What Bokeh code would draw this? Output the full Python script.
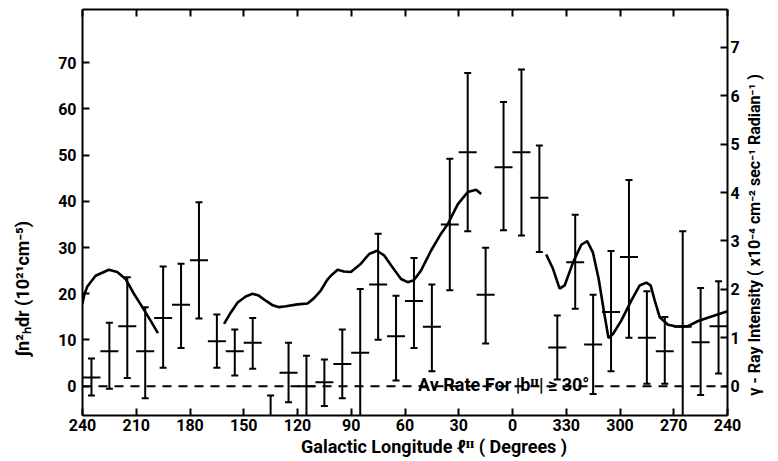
import math
from bokeh.plotting import figure
from bokeh.models import Range1d, LinearAxis, FixedTicker, ColumnDataSource, Span, Label
from bokeh.embed import file_html
from bokeh.resources import INLINE

# ---------------- data ----------------
# gamma-ray intensity (x1e-4 cm^-2 s^-1 rad^-1), 10-degree bins in galactic longitude
gamma_lon = [235, 225, 215, 205, 195, 185, 175, 165, 155, 145, 135, 125,
             115, 105, 95, 85, 75, 65, 55, 45, 35, 25, 15, 5,
             355, 345, 335, 325, 315, 305, 295, 285, 275, 265, 255, 245]
gamma_val = [0.18, 0.72, 1.24, 0.72, 1.41, 1.68, 2.60, 0.93, 0.72, 0.90, -0.75, 0.28,
             0.00, 0.08, 0.46, 0.69, 2.10, 1.03, 1.76, 1.23, 3.34, 4.83, 1.89, 4.52,
             4.83, 3.89, 0.80, 2.56, 0.86, 1.53, 2.67, 1.00, 0.72, 1.23, 0.91, 1.24]
gamma_hi = [0.57, 1.31, 2.25, 1.63, 2.47, 2.53, 3.80, 1.48, 1.17, 1.41, -0.19, 0.90,
            0.63, 0.55, 1.17, 2.01, 3.15, 1.87, 2.65, 2.10, 4.70, 6.47, 2.86, 5.87,
            6.54, 4.97, 1.46, 3.54, 1.89, 2.79, 4.26, 1.96, 1.43, 3.20, 2.03, 2.17]
gamma_lo = [-0.19, -0.05, 0.17, -0.25, 0.38, 0.79, 1.40, 0.38, 0.22, 0.36, -1.31, -0.33,
            -0.63, -0.41, -0.25, -0.63, 0.96, 0.12, 0.79, 0.31, 1.98, 3.20, 0.88, 3.22,
            3.11, 2.77, 0.14, 1.60, -0.16, 0.31, 1.00, 0.05, 0.05, -0.74, -0.18, 0.26]

# integral n_H^2 dr (1e21 cm^-5), three curve pieces
curve_a_lon = [240.0, 239.0, 237.4, 232.7, 225.3, 220.6, 216.0, 211.3, 206.6, 202.0, 197.9]
curve_a_val = [17.9, 19.8, 21.5, 23.9, 25.2, 24.7, 23.2, 20.0, 17.1, 14.2, 11.5]

curve_b_lon = [161.0, 157.3, 153.4, 148.9, 145.1, 141.6, 137.7, 133.8, 130.3, 126.5, 120.0,
               114.4, 110.9, 107.0, 103.6, 101.4, 97.6, 94.1, 90.2, 84.6, 80.0, 75.7,
               71.6, 66.9, 62.2, 58.5, 55.1, 51.1, 45.5, 39.9, 36.1, 30.5, 25.0, 20.3, 17.5]
curve_b_val = [13.5, 15.9, 18.1, 19.4, 20.0, 19.6, 18.5, 17.5, 17.1, 17.3, 17.7,
               17.9, 19.0, 20.7, 22.9, 23.9, 25.2, 24.8, 24.7, 26.5, 28.6, 29.3,
               28.3, 25.7, 23.2, 22.5, 22.9, 25.0, 29.3, 33.0, 35.1, 39.4, 42.0, 42.5, 41.6]

curve_c_lon = [341.2, 337.4, 333.7, 330.9, 326.2, 321.6, 318.3, 315.1, 311.9, 308.9, 306.4,
               303.9, 299.3, 293.7, 289.0, 285.3, 282.9, 280.6, 277.8, 273.2, 268.5,
               262.0, 256.4, 248.9, 240.0]
curve_c_val = [28.5, 25.4, 21.1, 21.8, 26.8, 30.6, 31.4, 28.9, 23.2, 16.0, 10.4,
               11.3, 14.2, 18.5, 21.8, 22.4, 21.8, 18.5, 14.9, 13.3, 12.9,
               13.0, 14.1, 15.1, 16.2]

x_tick_pos = [240, 210, 180, 150, 120, 90, 60, 30, 0, -30, -60, -90, -120]
x_tick_labels = ["240", "210", "180", "150", "120", "90", "60", "30", "0",
                 "330", "300", "270", "240"]
left_ticks = [0, 10, 20, 30, 40, 50, 60, 70]
right_ticks = [0, 1, 2, 3, 4, 5, 6, 7]

x_title = "Galactic  Longitude \u2113\u1d35\u1d35 ( Degrees )"
left_title = "\u222bn\u00b2\u2095dr (10\u00b2\u00b9cm\u207b\u2075)"
right_title = "\u03b3 - Ray Intensity ( x10\u207b\u2074 cm\u207b\u00b2 sec\u207b\u00b9 Radian\u207b\u00b9 )"
avrate_text = "Av Rate For |b\u1d35\u1d35| \u2265 30\u00b0"
avrate_lon = 52.7

NBSP = "\u00a0"

# ---------------- helpers ----------------
def first_half(lons):
    return [l for l in lons]

def second_half(lons):
    return [l - 360 for l in lons]

def wrap(lons):
    return [l - 360 if l > 240 else l for l in lons]

FONT = "Roboto"

p = figure(width=778, height=461,
           x_range=Range1d(240, -120), y_range=Range1d(-6.34, 81.5),
           output_backend="svg", toolbar_location=None,
           x_axis_location=None, y_axis_location=None,
           min_border_left=82, min_border_right=51,
           min_border_top=9, min_border_bottom=46)
p.extra_y_ranges = {"gamma": Range1d(-0.605, 7.78)}
p.grid.grid_line_color = None
p.outline_line_color = None
p.background_fill_color = "white"
p.border_fill_color = "white"


def style(ax):
    ax.major_tick_in = 7
    ax.major_tick_out = 0
    ax.minor_tick_line_color = None
    ax.axis_line_width = 2
    ax.axis_line_color = "black"
    ax.major_tick_line_width = 2
    ax.major_tick_line_color = "black"
    ax.major_label_text_font = FONT
    ax.major_label_text_font_style = "bold"
    ax.major_label_text_font_size = "16px"
    ax.major_label_text_color = "black"
    ax.axis_label_text_font = FONT
    ax.axis_label_text_font_style = "bold"
    ax.axis_label_text_color = "black"


bottom = LinearAxis(ticker=FixedTicker(ticks=x_tick_pos),
                    major_label_overrides=dict(zip(x_tick_pos, x_tick_labels)),
                    axis_label=NBSP * 14 + x_title)
style(bottom)
bottom.major_label_standoff = 3
bottom.axis_label_standoff = 2
bottom.axis_label_text_font_size = "18px"
p.add_layout(bottom, "below")

top = LinearAxis(ticker=FixedTicker(ticks=x_tick_pos))
style(top)
top.major_label_text_font_size = "0px"
top.major_label_text_color = None
top.major_label_standoff = 0
p.add_layout(top, "above")

left = LinearAxis(ticker=FixedTicker(ticks=left_ticks),
                  axis_label=left_title + NBSP * 34)
style(left)
left.major_label_standoff = 6
left.axis_label_standoff = 22
left.axis_label_text_font_size = "18px"
p.add_layout(left, "left")

right = LinearAxis(y_range_name="gamma", ticker=FixedTicker(ticks=right_ticks),
                   axis_label=NBSP * 5 + right_title)
style(right)
right.major_label_standoff = 3
right.axis_label_standoff = 12
right.axis_label_text_font_size = "16px"
_props = LinearAxis.properties()
if "axis_label_orientation" in _props and "axis_label_align" in _props:
    right.axis_label_orientation = math.pi / 2
    for _v in ("start", "left", "bottom"):
        try:
            right.axis_label_align = _v
            break
        except Exception:
            pass
p.add_layout(right, "right")

# zero reference line
p.add_layout(Span(location=0, dimension="width", line_color="black",
                  line_width=2, line_dash="9 7"))

# curves (left axis)
p.line(first_half(curve_a_lon), curve_a_val, line_width=2.6, color="black")
p.line(first_half(curve_b_lon), curve_b_val, line_width=2.6, color="black")
p.line(second_half(curve_c_lon), curve_c_val, line_width=2.6, color="black")

# gamma-ray points with error bars (right axis)
src = ColumnDataSource(dict(x=wrap(gamma_lon), y=gamma_val, hi=gamma_hi, lo=gamma_lo))
p.segment(x0="x", y0="lo", x1="x", y1="hi", source=src, y_range_name="gamma",
          line_width=2, line_color="black")
p.scatter(x="x", y="hi", marker="dash", size=7, line_width=2, line_color="black",
          source=src, y_range_name="gamma")
p.scatter(x="x", y="lo", marker="dash", size=7, line_width=2, line_color="black",
          source=src, y_range_name="gamma")
p.scatter(x="x", y="y", marker="dash", size=18, line_width=2, line_color="black",
          source=src, y_range_name="gamma")

p.add_layout(Label(x=avrate_lon, y=0.4, text=avrate_text, text_font=FONT,
                   text_font_style="bold", text_font_size="18px",
                   text_color="black", text_baseline="alphabetic", text_align="left"))

open("out.html", "w").write(file_html(p, INLINE))
